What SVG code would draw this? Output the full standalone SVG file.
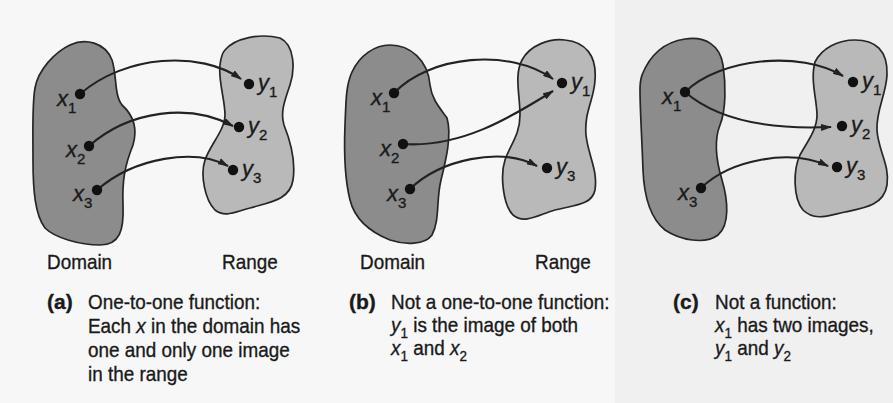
<svg xmlns="http://www.w3.org/2000/svg" width="893" height="403" viewBox="0 0 893 403">
  <style>
    .dom { fill:#8c8c8c; stroke:#262626; stroke-width:1.7; }
    .rng { fill:#b9b9b9; stroke:#262626; stroke-width:1.7; }
    .dot { fill:#111; }
    .conn { fill:none; stroke:#222; stroke-width:2.1; }
    .t { font-family:"Liberation Sans", Arial, sans-serif; font-size:21px; fill:#1a1a1a; stroke:#1a1a1a; stroke-width:0.35; }
    .pl { font-size:22px; }
    .it { font-style:italic; }
    .bd { font-weight:bold; }
    .sub { font-size:15px; font-style:normal; }
  </style>
  <defs>
    <marker id="ah" viewBox="0 0 11 7" refX="10" refY="3.5" markerWidth="11" markerHeight="7" markerUnits="userSpaceOnUse" orient="auto">
      <path d="M0,0 L11,3.5 L0,7 z" fill="#222"/>
    </marker>
  </defs>
  <rect x="0" y="0" width="893" height="403" fill="#f7f7f7"/>
  <rect x="615" y="0" width="278" height="403" fill="#f0f0f0"/>

  <!-- Panel (a) -->
  <g id="a-domain">
    <path class="dom" d="M35,88 C38,70 55,52 70,45 C85,38 105,42 112,60 C117,75 114,95 122,105 C133,115 138,128 133,145 C125,165 122,180 123,205 C124,230 120,245 100,245 C80,245 55,238 45,228 C35,215 33,190 33,160 C33,130 32,105 35,88 Z"/>
  </g>
  <g id="a-range">
    <path class="rng" d="M225,50 C235,38 260,33 280,38 C295,45 295,70 290,85 C285,100 280,112 284,125 C290,140 296,160 293,180 C290,200 270,202 250,208 C235,212 225,218 215,210 C205,200 200,175 205,160 C210,145 225,130 225,115 C225,100 218,80 220,65 C221,57 222,53 225,50 Z"/>
  </g>
  <!-- Panel (b) -->
  <g id="b-domain">
    <path class="dom" d="M352,72 C360,55 375,45 390,45 C410,45 428,60 430,85 C432,100 440,108 447,118 C452,135 446,160 441,180 C436,200 440,220 432,235 C425,245 405,245 390,240 C370,232 355,220 350,200 C345,180 344,150 345,125 C346,100 346,85 352,72 Z"/>
  </g>
  <g id="b-range">
    <path class="rng" d="M522,60 C530,45 550,38 565,40 C585,42 597,55 595,80 C594,100 584,112 586,135 C588,155 598,170 595,190 C592,205 575,205 555,210 C540,214 525,225 513,215 C503,205 500,175 505,160 C510,145 520,135 520,115 C520,95 514,75 522,60 Z"/>
  </g>
  <!-- Panel (c) -->
  <g id="c-domain">
    <path class="dom" d="M642,75 C650,55 665,42 685,39 C705,36 720,45 723,65 C726,85 726,110 720,125 C714,140 716,160 722,180 C728,200 730,225 718,235 C705,245 680,240 665,230 C650,218 644,195 643,170 C642,140 640,110 640,90 C640,83 641,78 642,75 Z"/>
  </g>
  <g id="c-range">
    <path class="rng" d="M815,62 C822,48 838,40 855,40 C875,40 888,50 887,75 C886,95 876,110 877,130 C878,150 890,165 887,185 C884,205 865,208 845,212 C830,215 815,222 803,210 C793,198 793,170 800,155 C807,142 817,130 817,115 C817,100 810,80 815,62 Z"/>
  </g>

  <!-- Connectors -->
  <g id="connectors">
    <path class="conn" marker-end="url(#ah)" d="M80,94 C125,55 200,50 241,79"/>
    <path class="conn" marker-end="url(#ah)" d="M89,146 C130,110 190,103 233,126"/>
    <path class="conn" marker-end="url(#ah)" d="M97,190 C135,157 195,148 228,166"/>
    <path class="conn" marker-end="url(#ah)" d="M394,93 C430,55 510,48 553,79"/>
    <path class="conn" marker-end="url(#ah)" d="M403,144 C460,148 510,118 553,91"/>
    <path class="conn" marker-end="url(#ah)" d="M410,189 C440,160 500,146 537,166"/>
    <path class="conn" marker-end="url(#ah)" d="M685,92 C720,58 800,50 843,76"/>
    <path class="conn" marker-end="url(#ah)" d="M685,92 C715,118 765,130 831,127"/>
    <path class="conn" marker-end="url(#ah)" d="M701,188 C730,160 790,148 828,166"/>
  </g>

  <!-- Points (a) -->
  <g id="a-x1"><circle class="dot" cx="80" cy="94" r="5.2"/><text class="t it pl" x="57" y="106">x<tspan class="sub" dy="7">1</tspan></text></g>
  <g id="a-x2"><circle class="dot" cx="89" cy="146" r="5.2"/><text class="t it pl" x="66" y="157">x<tspan class="sub" dy="7">2</tspan></text></g>
  <g id="a-x3"><circle class="dot" cx="97" cy="190" r="5.2"/><text class="t it pl" x="73" y="201">x<tspan class="sub" dy="7">3</tspan></text></g>
  <g id="a-y1"><circle class="dot" cx="249" cy="84" r="5.2"/><text class="t it pl" x="258" y="90">y<tspan class="sub" dy="7">1</tspan></text></g>
  <g id="a-y2"><circle class="dot" cx="239" cy="127" r="5.2"/><text class="t it pl" x="248" y="133">y<tspan class="sub" dy="7">2</tspan></text></g>
  <g id="a-y3"><circle class="dot" cx="233" cy="170" r="5.2"/><text class="t it pl" x="242" y="176">y<tspan class="sub" dy="7">3</tspan></text></g>
  <!-- Points (b) -->
  <g id="b-x1"><circle class="dot" cx="394" cy="93" r="5.2"/><text class="t it pl" x="371" y="105">x<tspan class="sub" dy="7">1</tspan></text></g>
  <g id="b-x2"><circle class="dot" cx="403" cy="144" r="5.2"/><text class="t it pl" x="380" y="156">x<tspan class="sub" dy="7">2</tspan></text></g>
  <g id="b-x3"><circle class="dot" cx="410" cy="189" r="5.2"/><text class="t it pl" x="387" y="201">x<tspan class="sub" dy="7">3</tspan></text></g>
  <g id="b-y1"><circle class="dot" cx="562" cy="83" r="5.2"/><text class="t it pl" x="571" y="89">y<tspan class="sub" dy="7">1</tspan></text></g>
  <g id="b-y3"><circle class="dot" cx="547" cy="168" r="5.2"/><text class="t it pl" x="556" y="174">y<tspan class="sub" dy="7">3</tspan></text></g>
  <!-- Points (c) -->
  <g id="c-x1"><circle class="dot" cx="685" cy="92" r="5.2"/><text class="t it pl" x="662" y="104">x<tspan class="sub" dy="7">1</tspan></text></g>
  <g id="c-x3"><circle class="dot" cx="701" cy="188" r="5.2"/><text class="t it pl" x="678" y="200">x<tspan class="sub" dy="7">3</tspan></text></g>
  <g id="c-y1"><circle class="dot" cx="853" cy="82" r="5.2"/><text class="t it pl" x="862" y="88">y<tspan class="sub" dy="7">1</tspan></text></g>
  <g id="c-y2"><circle class="dot" cx="842" cy="126" r="5.2"/><text class="t it pl" x="851" y="132">y<tspan class="sub" dy="7">2</tspan></text></g>
  <g id="c-y3"><circle class="dot" cx="837" cy="167" r="5.2"/><text class="t it pl" x="846" y="173">y<tspan class="sub" dy="7">3</tspan></text></g>

  <!-- Set labels -->
  <g id="labels">
    <text class="t" transform="translate(47,269) scale(0.9,1)">Domain</text>
    <text class="t" transform="translate(222,269) scale(0.9,1)">Range</text>
    <text class="t" transform="translate(360,269) scale(0.9,1)">Domain</text>
    <text class="t" transform="translate(535,269) scale(0.9,1)">Range</text>
  </g>

  <!-- Captions -->
  <g id="caption-a">
    <text class="t bd" x="47" y="309">(a)</text>
    <g transform="translate(88,0) scale(0.9,1)">
      <text class="t" x="0" y="309">One-to-one function:</text>
      <text class="t" x="0" y="333">Each <tspan class="it">x</tspan> in the domain has</text>
      <text class="t" x="0" y="357">one and only one image</text>
      <text class="t" x="0" y="381">in the range</text>
    </g>
  </g>
  <g id="caption-b">
    <text class="t bd" x="349" y="309">(b)</text>
    <g transform="translate(391,0) scale(0.9,1)">
      <text class="t" x="0" y="309">Not a one-to-one function:</text>
      <text class="t" x="0" y="332"><tspan class="it">y</tspan><tspan class="sub" dy="6">1</tspan><tspan dy="-6"> is the image of both</tspan></text>
      <text class="t" x="0" y="355"><tspan class="it">x</tspan><tspan class="sub" dy="6">1</tspan><tspan dy="-6"> and </tspan><tspan class="it">x</tspan><tspan class="sub" dy="6">2</tspan></text>
    </g>
  </g>
  <g id="caption-c">
    <text class="t bd" x="673" y="309">(c)</text>
    <g transform="translate(715,0) scale(0.9,1)">
      <text class="t" x="0" y="309">Not a function:</text>
      <text class="t" x="0" y="332"><tspan class="it">x</tspan><tspan class="sub" dy="6">1</tspan><tspan dy="-6"> has two images,</tspan></text>
      <text class="t" x="0" y="355"><tspan class="it">y</tspan><tspan class="sub" dy="6">1</tspan><tspan dy="-6"> and </tspan><tspan class="it">y</tspan><tspan class="sub" dy="6">2</tspan></text>
    </g>
  </g>
</svg>
